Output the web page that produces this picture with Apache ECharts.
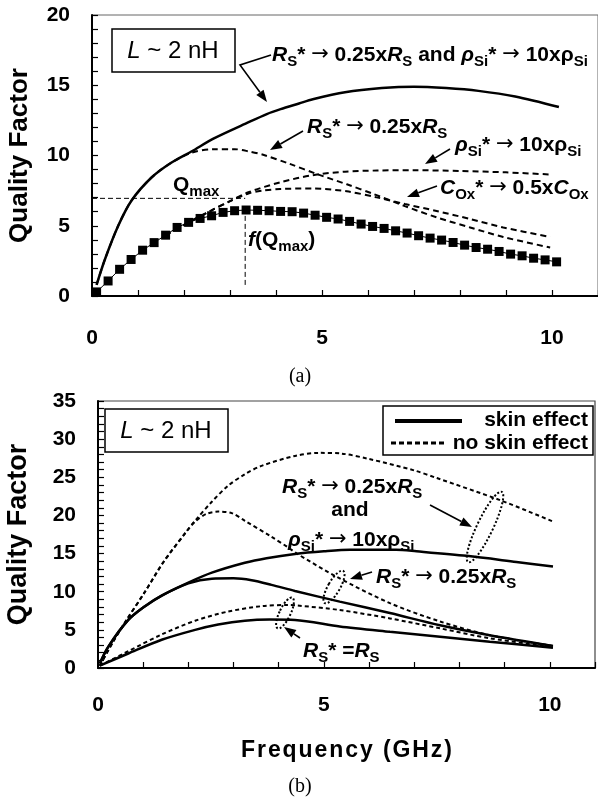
<!DOCTYPE html>
<html>
<head>
<meta charset="utf-8">
<script src="https://cdn.jsdelivr.net/npm/echarts@6/dist/echarts.min.js"></script>
<style>
  html, body { margin: 0; padding: 0; background: #fff; }
  #chart { width: 598px; height: 804px; }
</style>
</head>
<body>
<div id="chart"></div>
<script>
// ---- (a) L ~ 2 nH, quality factor vs frequency ----
const fBase = [0.1, 0.35, 0.6, 0.85, 1.1, 1.35, 1.6, 1.85, 2.1, 2.35, 2.6, 2.85, 3.1, 3.35, 3.6, 3.85, 4.1, 4.35, 4.6, 4.85,
  5.1, 5.35, 5.6, 5.85, 6.1, 6.35, 6.6, 6.85, 7.1, 7.35, 7.6, 7.85, 8.1, 8.35, 8.6, 8.85, 9.1, 9.35, 9.6, 9.85, 10.1]
const qBase = [0.29, 1.07, 1.9, 2.6, 3.26, 3.8, 4.33, 4.88, 5.24, 5.52, 5.71, 5.95, 6.07, 6.12, 6.1, 6.07, 6.02, 6.0, 5.9, 5.75,
  5.6, 5.48, 5.31, 5.12, 4.95, 4.81, 4.64, 4.48, 4.29, 4.12, 3.98, 3.81, 3.62, 3.45, 3.33, 3.17, 2.98, 2.86, 2.69, 2.57, 2.43]

const fBoth = [0.1, 0.28, 0.57, 0.86, 1.3, 1.73, 2.17, 2.64, 3.36, 3.8, 4.1, 4.5, 4.8, 5.5, 6.3, 7.0, 7.7, 8.4, 9.2, 10.15]
const qBoth = [0.8, 2.6, 5.0, 6.8, 8.45, 9.5, 10.3, 11.2, 12.3, 12.95, 13.3, 13.7, 14.0, 14.5, 14.8, 14.9, 14.8, 14.6, 14.2, 13.45]

const fRs = [0.1, 0.28, 0.57, 0.86, 1.3, 1.73, 2.17, 2.64, 3.1, 3.4, 3.72, 4.3, 4.88, 5.54, 6.12, 6.8, 7.49, 8.22, 8.94, 9.96]
const qRs = [0.8, 2.6, 5.0, 6.8, 8.45, 9.5, 10.2, 10.45, 10.45, 10.3, 10.05, 9.4, 8.69, 7.95, 7.26, 6.4, 5.6, 4.88, 4.2, 3.45]

const fRho = [1.6, 2.1, 2.6, 3.0, 3.4, 4.1, 4.8, 5.5, 6.2, 7.0, 8.0, 9.0, 9.96]
const qRho = [4.33, 5.24, 6.1, 6.75, 7.38, 8.1, 8.6, 8.85, 8.93, 8.95, 8.9, 8.8, 8.65]

const fCox = [1.6, 2.1, 2.6, 3.0, 3.4, 3.72, 4.09, 4.81, 5.54, 6.19, 6.8, 7.49, 8.22, 8.94, 9.96]
const qCox = [4.33, 5.24, 6.1, 6.75, 7.3, 7.5, 7.62, 7.65, 7.45, 7.02, 6.55, 6.05, 5.48, 4.88, 4.2]

const qMaxLevel = 6.95
const fAtQmax = 3.33

// ---- (b) skin effect vs no skin effect ----
const fSkinBoth = [0.04, 0.23, 0.67, 1.04, 1.41, 2.0, 2.52, 3.25, 3.73, 4.36, 5.0, 5.58, 6.6, 7.05, 8.16, 9.26, 10.07]
const qSkinBoth = [0.6, 2.8, 6.3, 8.1, 9.5, 11.2, 12.5, 13.8, 14.4, 14.95, 15.3, 15.5, 15.5, 15.3, 14.7, 13.9, 13.3]

const fSkinRs = [0.04, 0.23, 0.67, 1.04, 1.41, 2.0, 2.52, 3.0, 3.4, 3.84, 4.36, 5.35, 6.46, 7.57, 8.67, 10.07]
const qSkinRs = [0.6, 2.8, 6.3, 8.1, 9.5, 11.1, 11.7, 11.75, 11.5, 10.9, 10.1, 8.7, 7.2, 5.6, 4.3, 2.9]

const fSkinBase = [0.04, 0.67, 1.41, 2.15, 2.66, 3.25, 3.8, 4.36, 5.35, 6.46, 7.57, 8.67, 10.07]
const qSkinBase = [0.3, 1.9, 3.7, 5.0, 5.7, 6.2, 6.35, 6.3, 5.45, 4.75, 4.1, 3.45, 2.65]

const fNoSkinBoth = [0.04, 0.34, 0.6, 1.04, 1.45, 1.96, 2.15, 2.52, 2.88, 3.25, 3.62, 4.36, 4.9, 5.4, 6.0, 7.0, 7.5, 8.9, 10.07]
const qNoSkinBoth = [0.3, 3.5, 6.0, 10.0, 13.9, 17.9, 19.3, 21.8, 23.9, 25.4, 26.5, 27.8, 28.2, 28.1, 27.4, 25.9, 24.9, 22.0, 19.2]

const fNoSkinRs = [0.04, 0.34, 0.6, 1.04, 1.45, 1.96, 2.15, 2.4, 2.66, 2.96, 3.25, 3.84, 4.21, 4.4, 5.3, 6.46, 7.57, 8.67, 10.07]
const qNoSkinRs = [0.3, 3.5, 6.0, 10.0, 13.9, 17.9, 19.2, 20.2, 20.5, 20.3, 19.3, 17.2, 15.8, 15.0, 11.9, 8.5, 6.1, 4.3, 2.9]

const fNoSkinBase = [0.04, 0.67, 1.41, 2.15, 2.88, 3.62, 4.21, 4.4, 5.35, 6.46, 7.57, 8.67, 10.07]
const qNoSkinBase = [0.3, 2.2, 4.4, 6.2, 7.4, 8.1, 8.26, 8.2, 7.6, 6.5, 5.2, 3.9, 2.75]

const xTickLabels = [0, 5, 10]

const FONT = '"Liberation Sans", Arial, Helvetica, sans-serif'
const zip = (xs, ys) => xs.map((x, i) => [x, ys[i]])

const rich = {
    i: { fontStyle: 'italic', fontWeight: 'bold', fontSize: 21, fontFamily: FONT, fill: '#000' },
    b: { fontWeight: 'bold', fontSize: 21, fontFamily: FONT, fill: '#000' },
    a: { fontSize: 21, fontFamily: '"DejaVu Sans", sans-serif', fill: '#000' },
    s: { fontWeight: 'bold', fontSize: 15, fontFamily: FONT, fill: '#000', padding: [14, 0, 0, 0] },
    li: { fontStyle: 'italic', fontSize: 24, fontFamily: FONT, fill: '#000' },
    n: { fontSize: 24, fontFamily: FONT, fill: '#000' },
}

function label(x, y, text, align) {
    return {
        type: 'text', x: x, y: y, z: 100,
        style: { text: text, rich: rich, align: align || 'left', verticalAlign: 'middle', fill: '#000' }
    }
}

function arrow(pts) {
    const n = pts.length
    const tip = pts[n - 1], prev = pts[n - 2]
    const dx = tip[0] - prev[0], dy = tip[1] - prev[1]
    const len = Math.sqrt(dx * dx + dy * dy)
    const ux = dx / len, uy = dy / len
    const head = 12, w = 4.5
    const bx = tip[0] - ux * head, by = tip[1] - uy * head
    const linePts = pts.slice(0, n - 1).concat([[bx, by]])
    return [
        { type: 'polyline', z: 100, shape: { points: linePts }, style: { stroke: '#000', lineWidth: 1.6, fill: null } },
        { type: 'polygon', z: 100, shape: { points: [tip, [bx - uy * w, by + ux * w], [bx + uy * w, by - ux * w]] }, style: { fill: '#000' } },
    ]
}

function ring(cx, cy, rx, ry, rot) {
    return {
        type: 'ellipse', x: cx, y: cy, rotation: rot, z: 100,
        shape: { cx: 0, cy: 0, rx: rx, ry: ry },
        style: { stroke: '#000', fill: null, lineWidth: 2, lineDash: [2, 2] }
    }
}

function box(x, y, w, h) {
    return { type: 'rect', z: 100, shape: { x: x, y: y, width: w, height: h }, style: { stroke: '#000', lineWidth: 1.5, fill: '#fff' } }
}

const tickFmt = v => (xTickLabels.indexOf(v) >= 0 ? String(v) : '')
const yFmt = v => (v % 5 === 0 ? String(v) : '')

function xAxis(grid, margin) {
    return {
        type: 'value', gridIndex: grid, min: 0, max: 11, interval: 1,
        axisLine: { lineStyle: { color: '#000', width: 2 } },
        axisTick: { inside: true, length: 6, lineStyle: { color: '#000', width: 1.2 } },
        axisLabel: { formatter: tickFmt, margin: margin, color: '#000', fontSize: 21, fontWeight: 'bold', fontFamily: FONT },
        splitLine: { show: false },
    }
}

function yAxis(grid, max, gap, nameSize) {
    return {
        type: 'value', gridIndex: grid, min: 0, max: max, interval: 1,
        name: 'Quality Factor', nameLocation: 'middle', nameGap: gap,
        nameTextStyle: { color: '#000', fontSize: nameSize, fontWeight: 'bold', fontFamily: FONT },
        axisLine: { show: true, lineStyle: { color: '#000', width: 2 } },
        axisTick: { inside: true, length: 6, lineStyle: { color: '#000', width: 1.2 } },
        axisLabel: { formatter: yFmt, margin: 22, color: '#000', fontSize: 21, fontWeight: 'bold', fontFamily: FONT },
        splitLine: { show: false },
    }
}

function curve(name, grid, xs, ys, dashed) {
    return {
        name: name, type: 'line', xAxisIndex: grid, yAxisIndex: grid,
        data: zip(xs, ys), showSymbol: false, smooth: 0.3,
        lineStyle: dashed ? { color: '#000', width: 2, type: [6, 4] } : { color: '#000', width: 2.5 },
        silent: true,
    }
}

const chart = echarts.init(document.getElementById('chart'), null, { renderer: 'canvas' })

const freqName = 'Frequency (GHz)'.split('').join('\u200A')
const bottomDash = { color: '#000', width: 2, type: [4, 3] }

const option = {
    backgroundColor: '#fff',
    animation: false,
    grid: [
        { left: 92, top: 15, width: 506, height: 281, outerBoundsMode: 'none', containLabel: false, show: true, borderColor: '#666', borderWidth: 1 },
        { left: 98, top: 401, width: 497, height: 267, outerBoundsMode: 'none', containLabel: false, show: true, borderColor: '#444', borderWidth: 1.2 },
    ],
    xAxis: [
        xAxis(0, 32),
        Object.assign(xAxis(1, 27), {
            name: freqName, nameLocation: 'middle', nameGap: 71,
            nameTextStyle: { color: '#000', fontSize: 23, fontWeight: 'bold', fontFamily: FONT },
        }),
    ],
    yAxis: [yAxis(0, 20, 59, 26), yAxis(1, 35, 66, 27)],
    series: [
        curve('RS and rhoSi', 0, fBoth, qBoth, false),
        curve('RS', 0, fRs, qRs, true),
        curve('rhoSi', 0, fRho, qRho, true),
        curve('Cox', 0, fCox, qCox, true),
        {
            name: 'base', type: 'line', xAxisIndex: 0, yAxisIndex: 0,
            data: zip(fBase, qBase), symbol: 'rect', symbolSize: 9,
            itemStyle: { color: '#000' }, lineStyle: { color: '#000', width: 1 },
        },
        {
            name: 'Qmax', type: 'line', xAxisIndex: 0, yAxisIndex: 0, showSymbol: false,
            data: [[0, qMaxLevel], [fAtQmax, qMaxLevel]],
            lineStyle: { color: '#000', width: 1, type: [5, 3] },
        },
        {
            name: 'f(Qmax)', type: 'line', xAxisIndex: 0, yAxisIndex: 0, showSymbol: false,
            data: [[fAtQmax, 5.7], [fAtQmax, 0.6]],
            lineStyle: { color: '#000', width: 1, type: [5, 3] },
        },

        curve('skin effect', 1, fSkinBoth, qSkinBoth, false),
        curve('skin effect', 1, fSkinRs, qSkinRs, false),
        curve('skin effect', 1, fSkinBase, qSkinBase, false),
        Object.assign(curve('no skin effect', 1, fNoSkinBoth, qNoSkinBoth, true), { lineStyle: bottomDash }),
        Object.assign(curve('no skin effect', 1, fNoSkinRs, qNoSkinRs, true), { lineStyle: bottomDash }),
        Object.assign(curve('no skin effect', 1, fNoSkinBase, qNoSkinBase, true), { lineStyle: bottomDash }),
    ],
    graphic: [
        // (a)
        box(112, 29, 123, 43),
        label(173, 51, '{li|L}{n| ~ 2 nH}', 'center'),
        label(272, 55, '{i|R}{s|S}{b|* }{a|→}{b| 0.25x}{i|R}{s|S}{b| and }{i|ρ}{s|Si}{b|* }{a|→}{b| 10xρ}{s|Si}'),
        ...arrow([[271, 55], [240, 65], [267, 102]]),
        label(307, 127, '{i|R}{s|S}{b|* }{a|→}{b| 0.25x}{i|R}{s|S}'),
        ...arrow([[303, 131], [270, 150]]),
        label(455, 145, '{i|ρ}{s|Si}{b|* }{a|→}{b| 10xρ}{s|Si}'),
        ...arrow([[450, 149], [425, 164]]),
        label(440, 188, '{i|C}{s|Ox}{b|* }{a|→}{b| 0.5x}{i|C}{s|Ox}'),
        ...arrow([[437, 186], [407, 197]]),
        label(173, 185, '{b|Q}{s|max}'),
        label(248, 240, '{i|f}{b|(Q}{s|max}{b|)}'),
        { type: 'text', x: 300, y: 377, style: { text: '(a)', font: '20px "Liberation Serif", "Times New Roman", serif', fill: '#000', align: 'center', verticalAlign: 'middle' } },

        // (b)
        box(105, 409, 123, 43),
        label(166, 431, '{li|L}{n| ~ 2 nH}', 'center'),
        box(383, 406, 210, 49),
        { type: 'line', z: 100, shape: { x1: 395, y1: 421, x2: 462, y2: 421 }, style: { stroke: '#000', lineWidth: 4 } },
        { type: 'line', z: 100, shape: { x1: 391, y1: 443, x2: 444, y2: 443 }, style: { stroke: '#000', lineWidth: 3, lineDash: [5, 3] } },
        label(588, 420, '{b|skin effect}', 'right'),
        label(588, 443, '{b|no skin effect}', 'right'),
        label(282, 487, '{i|R}{s|S}{b|* }{a|→}{b| 0.25x}{i|R}{s|S}'),
        label(350, 510, '{b|and}', 'center'),
        label(288, 540, '{i|ρ}{s|Si}{b|* }{a|→}{b| 10xρ}{s|Si}'),
        ...arrow([[430, 505], [472, 527]]),
        ring(485, 527, 8, 39, -0.445),
        label(376, 577, '{i|R}{s|S}{b|* }{a|→}{b| 0.25x}{i|R}{s|S}'),
        ...arrow([[372, 572], [350, 579]]),
        ring(334, 587, 6, 18.5, -0.52),
        label(303, 651, '{i|R}{s|S}{b|* =}{i|R}{s|S}'),
        ...arrow([[300, 638], [284, 627]]),
        ring(285, 613, 5.5, 17, -0.45),
        { type: 'text', x: 300, y: 787, style: { text: '(b)', font: '20px "Liberation Serif", "Times New Roman", serif', fill: '#000', align: 'center', verticalAlign: 'middle' } },
    ],
}

chart.setOption(option)
</script>
</body>
</html>
